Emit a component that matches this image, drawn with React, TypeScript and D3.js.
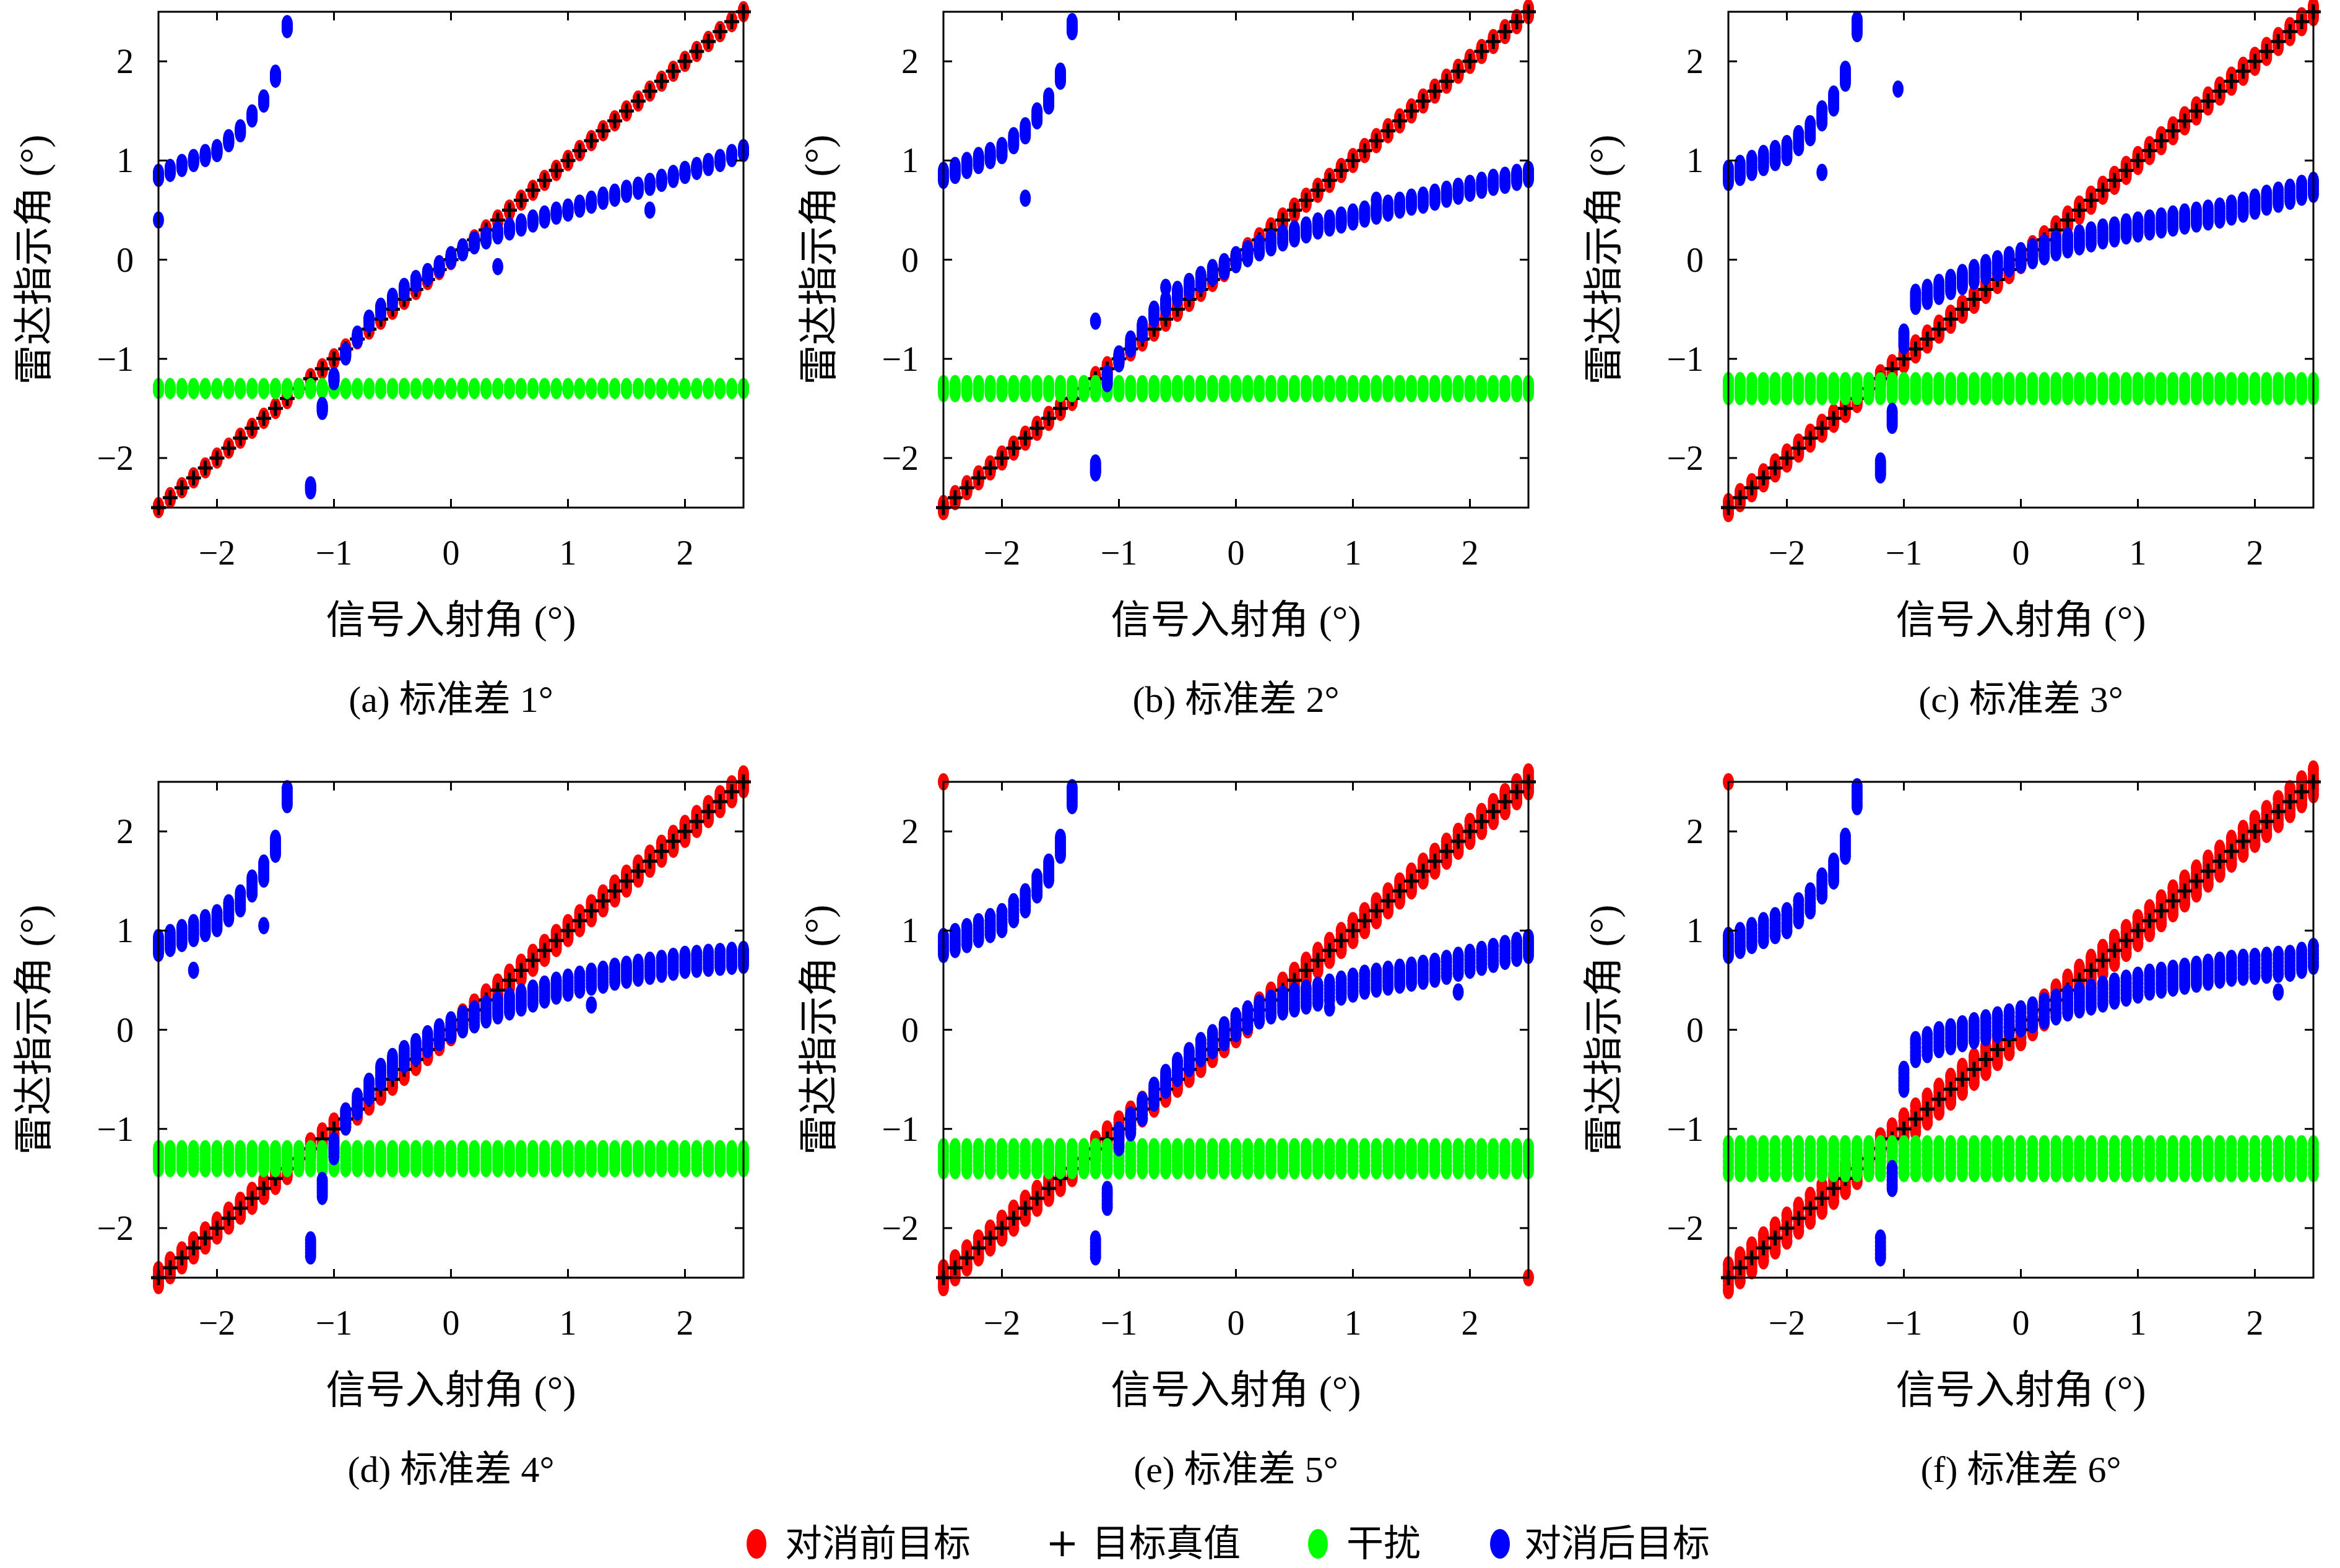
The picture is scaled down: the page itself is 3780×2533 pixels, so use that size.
import React from "react";
import * as d3 from "d3";

const xs = d3.range(51).map(i => Math.round((-2.5 + i * 0.1) * 10) / 10);
const ticks = [-2, -1, 0, 1, 2];
const captions = ["(a) 标准差 1°", "(b) 标准差 2°", "(c) 标准差 3°", "(d) 标准差 4°", "(e) 标准差 5°", "(f) 标准差 6°"];
// blue, x = -2.5 .. -1.4 (shared)
const blueLeft = [0.85, 0.9, 0.95, 1.0, 1.05, 1.1, 1.2, 1.3, 1.45, 1.6, 1.85, 2.35];
// blue, x = -1.3 .. 2.5 per panel
const blueA = [null, -2.3, -1.5, -1.2, -0.95, -0.78, -0.62, -0.5, -0.4, -0.3, -0.22, -0.15, -0.07, 0.02, 0.1, 0.17, 0.22, 0.27, 0.31, 0.35, 0.39, 0.43, 0.47, 0.5, 0.54, 0.58, 0.62, 0.65, 0.69, 0.72, 0.76, 0.8, 0.84, 0.88, 0.92, 0.96, 1.0, 1.05, 1.1];
const blueB = [null, -2.1, -1.2, -1.0, -0.85, -0.7, -0.55, -0.45, -0.35, -0.27, -0.2, -0.13, -0.07, 0.0, 0.06, 0.12, 0.17, 0.22, 0.26, 0.3, 0.34, 0.37, 0.4, 0.43, 0.46, 0.49, 0.52, 0.55, 0.58, 0.6, 0.63, 0.66, 0.69, 0.72, 0.75, 0.78, 0.8, 0.83, 0.86];
const blueC = [null, -2.1, -1.6, -0.8, -0.4, -0.35, -0.3, -0.25, -0.2, -0.15, -0.1, -0.06, -0.02, 0.02, 0.06, 0.1, 0.14, 0.17, 0.2, 0.23, 0.26, 0.28, 0.31, 0.33, 0.35, 0.37, 0.39, 0.41, 0.43, 0.45, 0.47, 0.5, 0.53, 0.56, 0.6, 0.63, 0.66, 0.7, 0.73];
const blueD = [null, -2.2, -1.6, -1.2, -0.9, -0.75, -0.6, -0.45, -0.35, -0.27, -0.2, -0.12, -0.05, 0.02, 0.08, 0.13, 0.18, 0.22, 0.26, 0.3, 0.34, 0.38, 0.42, 0.45, 0.48, 0.51, 0.53, 0.56, 0.58, 0.6, 0.62, 0.64, 0.66, 0.68, 0.69, 0.7, 0.71, 0.72, 0.73];
const blueE = [null, -2.2, -1.7, -1.1, -0.95, -0.8, -0.65, -0.52, -0.4, -0.3, -0.2, -0.12, -0.04, 0.05, 0.12, 0.18, 0.23, 0.27, 0.3, 0.33, 0.36, 0.39, 0.42, 0.45, 0.48, 0.5, 0.52, 0.54, 0.56, 0.58, 0.6, 0.63, 0.66, 0.69, 0.72, 0.75, 0.78, 0.81, 0.84];
const blueF = [null, -2.2, -1.5, -0.5, -0.2, -0.15, -0.1, -0.07, -0.04, -0.01, 0.02, 0.05, 0.08, 0.11, 0.15, 0.19, 0.23, 0.27, 0.3, 0.33, 0.36, 0.39, 0.42, 0.45, 0.48, 0.5, 0.52, 0.54, 0.56, 0.58, 0.6, 0.62, 0.63, 0.64, 0.65, 0.66, 0.67, 0.7, 0.74];
const blueRight = [blueA, blueB, blueC, blueD, blueE, blueF];
const redSpread = [0.02, 0.04, 0.06, 0.08, 0.1, 0.13];
const greenSpread = [0.02, 0.05, 0.08, 0.1, 0.12, 0.15];
const blueSpread = [0.03, 0.05, 0.07, 0.08, 0.09, 0.1];
const greenLevel = -1.3;
const blueOutliers: [number, number][][] = [
  [[-2.5, 0.4], [1.7, 0.5], [0.4, -0.07]],
  [[-1.8, 0.62], [-1.2, -0.62], [-0.6, -0.28], [1.2, 0.6]],
  [[-1.05, 1.72], [-1.7, 0.88]],
  [[-2.2, 0.6], [-1.6, 1.05], [1.2, 0.25]],
  [[0.8, 0.22], [1.9, 0.38]],
  [[2.2, 0.38]],
];
const redOutliers: [number, number][][] = [[], [], [], [], [[-2.5, 2.5], [2.5, -2.5]], [[-2.5, 2.5]]];
const sampleOffsets = [-1, -0.6, -0.2, 0.2, 0.6, 1];

const W = 3780, H = 2533;
const PW = 945, PH = 801;
const X0 = 256, Y0 = 19, DX = 1268, DY = 1244;
const num = "'Liberation Serif', 'DejaVu Serif', serif";
const cjk = "'Liberation Serif', 'Noto Sans CJK SC', sans-serif";
const fmt = (v: number) => (v < 0 ? "−" + Math.abs(v) : String(v));
const RED = "#ff0000", GREEN = "#00ff00", BLUE = "#0000ff";
const RX = 9, RY = 14;

function Plus({ cx, cy, s, w = 5 }: { cx: number; cy: number; s: number; w?: number }) {
  return <path d={`M${cx - s},${cy}H${cx + s}M${cx},${cy - s}V${cy + s}`} stroke="#000" strokeWidth={w} />;
}

function Panel({ i }: { i: number }) {
  const ox = X0 + (i % 3) * DX, oy = Y0 + Math.floor(i / 3) * DY;
  const x = d3.scaleLinear().domain([-2.5, 2.5]).range([0, PW]);
  const y = d3.scaleLinear().domain([-2.5, 2.5]).range([PH, 0]);
  const blue = [...blueLeft, ...blueRight[i]];
  return (
    <g transform={`translate(${ox},${oy})`}>
      {xs.map((v, k) => sampleOffsets.map((o, j) => (
        <ellipse key={`r${k}-${j}`} cx={x(v)} cy={y(v + o * redSpread[i])} rx={RX} ry={RY} fill={RED} />
      )))}
      {redOutliers[i].map(([a, b], k) => <ellipse key={`ro${k}`} cx={x(a)} cy={y(b)} rx={RX} ry={RY} fill={RED} />)}
      {xs.map((v, k) => <Plus key={`p${k}`} cx={x(v)} cy={y(v)} s={12} />)}
      {xs.map((v, k) => sampleOffsets.map((o, j) => (
        <ellipse key={`g${k}-${j}`} cx={x(v)} cy={y(greenLevel + o * greenSpread[i])} rx={RX} ry={RY} fill={GREEN} />
      )))}
      {xs.map((v, k) => blue[k] == null ? null : sampleOffsets.map((o, j) => (
        <ellipse key={`b${k}-${j}`} cx={x(v)} cy={y((blue[k] as number) + o * blueSpread[i])} rx={RX} ry={RY} fill={BLUE} />
      )))}
      {blueOutliers[i].map(([a, b], k) => <ellipse key={`bo${k}`} cx={x(a)} cy={y(b)} rx={RX} ry={RY} fill={BLUE} />)}
      <rect x={0} y={0} width={PW} height={PH} fill="none" stroke="#000" strokeWidth={3} />
      {ticks.map(t => (
        <g key={t}>
          <line x1={x(t)} x2={x(t)} y1={PH} y2={PH - 14} stroke="#000" strokeWidth={3} />
          <line x1={x(t)} x2={x(t)} y1={0} y2={14} stroke="#000" strokeWidth={3} />
          <line x1={0} x2={14} y1={y(t)} y2={y(t)} stroke="#000" strokeWidth={3} />
          <line x1={PW} x2={PW - 14} y1={y(t)} y2={y(t)} stroke="#000" strokeWidth={3} />
          <text x={x(t)} y={PH + 92} textAnchor="middle" fontFamily={num} fontSize={56}>{fmt(t)}</text>
          <text x={-40} y={y(t) + 19} textAnchor="end" fontFamily={num} fontSize={56}>{fmt(t)}</text>
        </g>
      ))}
      <text x={PW / 2} y={PH + 203} textAnchor="middle" fontFamily={cjk} fontSize={64}>信号入射角 (°)</text>
      <text x={PW / 2} y={PH + 330} textAnchor="middle" fontFamily={cjk} fontSize={60}>{captions[i]}</text>
      <text transform={`translate(-180,${PH / 2}) rotate(-90)`} textAnchor="middle" fontFamily={cjk} fontSize={64}>雷达指示角 (°)</text>
    </g>
  );
}

export default function App() {
  const ly = 2494;
  return (
    <svg width={W} height={H} style={{ position: "absolute", left: 0, top: 0, background: "#fff" }}>
      <rect width={W} height={H} fill="#fff" />
      {d3.range(6).map(i => <Panel key={i} i={i} />)}
      <ellipse cx={1222} cy={ly} rx={16} ry={24} fill={RED} />
      <text x={1268} y={ly + 20} fontFamily={cjk} fontSize={60}>对消前目标</text>
      <Plus cx={1716} cy={ly} s={20} />
      <text x={1764} y={ly + 20} fontFamily={cjk} fontSize={60}>目标真值</text>
      <ellipse cx={2129} cy={ly} rx={16} ry={24} fill={GREEN} />
      <text x={2175} y={ly + 20} fontFamily={cjk} fontSize={60}>干扰</text>
      <ellipse cx={2423} cy={ly} rx={16} ry={24} fill={BLUE} />
      <text x={2462} y={ly + 20} fontFamily={cjk} fontSize={60}>对消后目标</text>
    </svg>
  );
}
